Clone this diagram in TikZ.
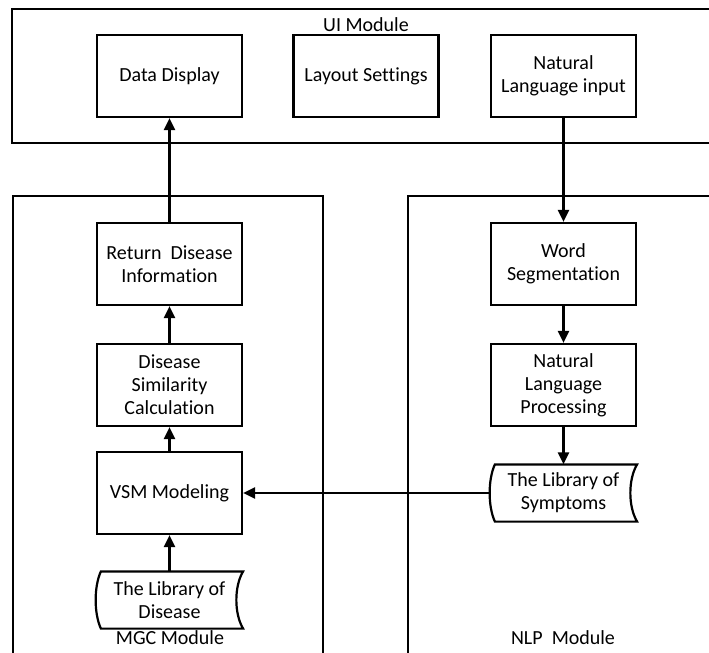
\documentclass[tikz,border=0pt]{standalone}
\usepackage{fontspec}
\setmainfont{Carlito}[Ligatures=CommonOff]
\usepackage{tikz}
\usetikzlibrary{arrows.meta, positioning}

\begin{document}
\begin{tikzpicture}[x=0.5pt, y=-0.5pt, line width=1.1pt,
  font=\fontsize{10}{11.5}\selectfont,
  module/.style={draw=black, line width=1.2pt},
  proc/.style={draw=black, align=center, inner sep=0pt,
    minimum width=72.5pt, minimum height=41pt},
  store/.style={align=center, inner sep=0pt,
    minimum width=72.5pt, minimum height=27.5pt},
  flow/.style={-{Triangle[length=6pt, width=5.5pt]}, black}]

  \useasboundingbox (0,0) rectangle (709,653);

  % ── Module frames ──
  \draw[module] (709,9) -- (12,9) -- (12,143) -- (709,143);
  \draw[module] (13,653) -- (13,196) -- (323,196) -- (323,653);
  \draw[module] (408,653) -- (408,196) -- (709,196);
  \node (uilabel)  at (366,25)  {UI Module};
  \node (mgclabel) at (170,638) {MGC Module};
  \node (nlplabel) at (563,638) {NLP~ Module};

  % ── UI module ──
  \node[proc] (display) at (169.5,76) {Data Display};
  \node[proc] (layout)  at (366,76)   {Layout Settings};
  \node[proc] (input)   at (563.5,76) {Natural\\Language input};

  % ── MGC module ──
  \node[proc] (ret) at (169.5,264) {Return~ Disease\\Information};
  \node[proc] (sim) at (169.5,385) {Disease\\Similarity\\Calculation};
  \node[proc] (vsm) at (169.5,493) {VSM Modeling};
  \node[store] (libd) at (169.5,600) {The Library of\\Disease};
  \draw ([xshift=2.5pt]libd.north west) -- (libd.north east)
    .. controls +(-9,15) and +(-9,-15) .. (libd.south east)
    -- ([xshift=2.5pt]libd.south west)
    .. controls +(-7,-15) and +(-7,15) .. ([xshift=2.5pt]libd.north west) -- cycle;

  % ── NLP module ──
  \node[proc] (seg) at (563.5,264) {Word\\Segmentation};
  \node[proc] (nlp) at (563.5,385) {Natural\\Language\\Processing};
  \node[store] (libs) at (563.5,493) {The Library of\\Symptoms};
  \draw ([xshift=2.5pt]libs.north west) -- (libs.north east)
    .. controls +(-9,15) and +(-9,-15) .. (libs.south east)
    -- ([xshift=2.5pt]libs.south west)
    .. controls +(-7,-15) and +(-7,15) .. ([xshift=2.5pt]libs.north west) -- cycle;

  % ── Flow arrows ──
  \draw[flow] (ret) -- (display);
  \draw[flow] (sim) -- (ret);
  \draw[flow] (vsm) -- (sim);
  \draw[flow] (libd) -- (vsm);
  \draw[flow] (input) -- (seg);
  \draw[flow] (seg) -- (nlp);
  \draw[flow] (nlp) -- (libs);
  \draw[flow] (libs.west) -- (vsm.east);

\end{tikzpicture}
\end{document}
